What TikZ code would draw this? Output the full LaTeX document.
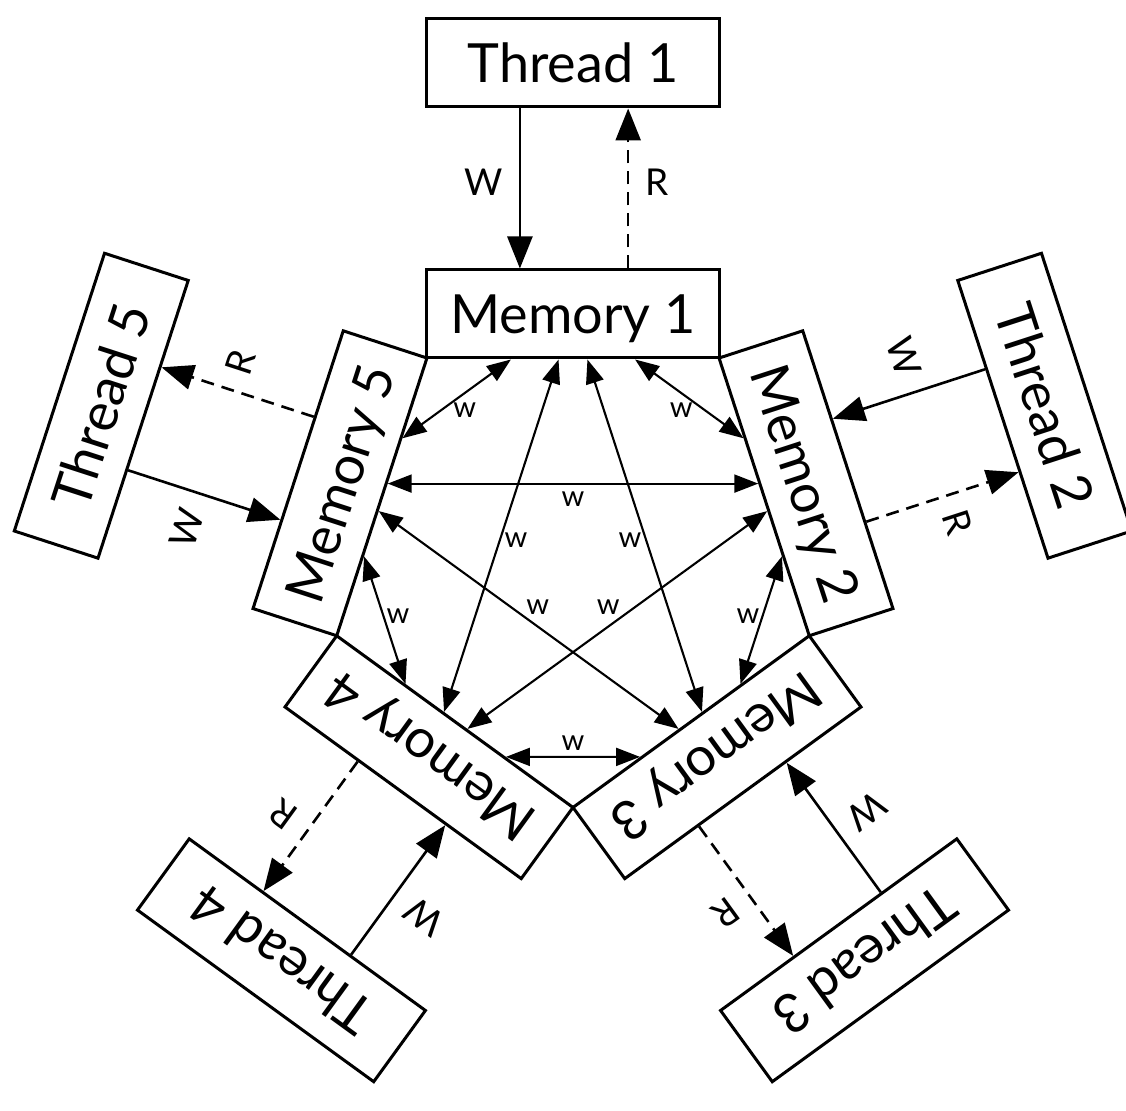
\documentclass[tikz,border=0pt]{standalone}
\usepackage{fontspec}
\setmainfont{Lato}
\usetikzlibrary{arrows.meta,calc}
\begin{document}
\begin{tikzpicture}[x=1pt,y=1pt,
  box/.style={draw, line width=3pt, minimum width=292pt, minimum height=88pt,
    inner sep=0pt, text height=39pt, text depth=0pt, font=\fontsize{54}{58}\selectfont},
  tm/.style={line width=2.6pt, -{Triangle[length=32pt,width=25pt]}},
  rd/.style={tm, dash pattern=on 13pt off 8pt},
  inner/.style={line width=2.1pt, {Triangle[length=24pt,width=18pt]}-{Triangle[length=24pt,width=18pt]}},
  wrlbl/.style={inner sep=0pt, font=\fontsize{37}{40}\selectfont},
  wlbl/.style={inner sep=0pt, font=\fontsize{29}{30}\selectfont}
]
\fill[white] (-573,-551) rectangle (553,559);
\useasboundingbox (-573,-551) rectangle (553,559);

% boxes
\foreach \k in {1,...,5} {
  \pgfmathsetmacro\rot{-72*(\k-1)}
  \node[box, rotate=\rot] (m\k) at (\rot+90:245) {Memory \k};
  \node[box, rotate=\rot] (t\k) at (\rot+90:496) {Thread \k};
}

% thread <-> memory
\foreach \k in {1,...,5} {
  \pgfmathsetmacro\rot{-72*(\k-1)}
  \draw[tm] ($(t\k.south west)!0.320!(t\k.south east)$) -- ($(m\k.north west)!0.320!(m\k.north east)$)
    node[wrlbl, rotate=\rot] (lw\k) at (\rot+103.4:387.6) {W};
  \draw[rd] ($(m\k.north west)!0.687!(m\k.north east)$) -- ($(t\k.south west)!0.687!(t\k.south east)$)
    node[wrlbl, rotate=\rot] (lr\k) at (\rot+77.4:386.2) {R};
}

% memory <-> memory
\foreach \k/\n/\nn in {1/2/3, 2/3/4, 3/4/5, 4/5/1, 5/1/2} {
  \pgfmathsetmacro\rot{-72*(\k-1)}
  \draw[inner] ($(m\k.south west)!0.7105!(m\k.south east)$) -- ($(m\n.south west)!0.2895!(m\n.south east)$)
    node[wlbl] (la\k) at (\rot+54:184) {w};
  \draw[inner] ($(m\k.south west)!0.549!(m\k.south east)$) -- ($(m\nn.south west)!0.451!(m\nn.south east)$)
    node[wlbl] (ld\k) at (\rot+18:60) {w};
}
\end{tikzpicture}
\end{document}
